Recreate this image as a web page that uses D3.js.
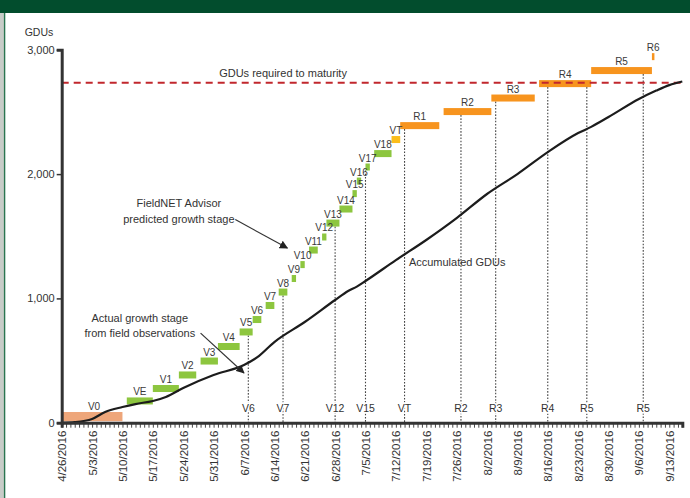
<!DOCTYPE html>
<html><head><meta charset="utf-8">
<script src="https://cdn.jsdelivr.net/npm/d3@7"></script>
<style>
html,body{margin:0;padding:0;background:#fff;}
svg{display:block;font-family:"Liberation Sans",Arial,sans-serif;}
</style></head><body>
<svg id="c" width="690" height="498"></svg>
<script>
// ---------- data ----------
const stageNames = ["V0","VE","V1","V2","V3","V4","V5","V6","V7","V8","V9","V10","V11","V12","V13","V14","V15","V16","V17","V18","VT","R1","R2","R3","R4","R5","R6"];
const stageStart = ["4/26/2016","5/11/2016","5/17/2016","5/23/2016","5/28/2016","6/1/2016","6/6/2016","6/9/2016","6/12/2016","6/15/2016","6/18/2016","6/20/2016","6/22/2016","6/25/2016","6/26/2016","6/29/2016","7/2/2016","7/3/2016","7/5/2016","7/7/2016","7/11/2016","7/13/2016","7/23/2016","8/3/2016","8/14/2016","8/26/2016","9/9/2016"];
const stageEnd   = ["5/10/2016","5/17/2016","5/23/2016","5/27/2016","6/1/2016","6/6/2016","6/9/2016","6/11/2016","6/14/2016","6/17/2016","6/19/2016","6/21/2016","6/24/2016","6/26/2016","6/29/2016","7/2/2016","7/3/2016","7/4/2016","7/6/2016","7/11/2016","7/13/2016","7/22/2016","8/3/2016","8/13/2016","8/26/2016","9/9/2016","9/9/2016"];
const stageGDU   = [86,175,275,384,496,613,730,830,943,1051,1160,1272,1389,1494,1606,1719,1843,1944,2057,2165,2278,2390,2503,2612,2728,2833,2945];

const obsNames = ["V6","V7","V12","V15","VT","R2","R3","R4","R5","R5"];
const obsDates = ["6/8/2016","6/16/2016","6/28/2016","7/5/2016","7/14/2016","7/27/2016","8/4/2016","8/16/2016","8/25/2016","9/7/2016"];

const gduDates  = ["4/26/2016","4/29/2016","5/3/2016","5/6/2016","5/10/2016","5/13/2016","5/17/2016","5/20/2016","5/24/2016","5/31/2016","6/7/2016","6/10/2016","6/14/2016","6/21/2016","6/28/2016","7/1/2016","7/3/2016","7/5/2016","7/12/2016","7/19/2016","7/26/2016","8/2/2016","8/9/2016","8/16/2016","8/23/2016","8/26/2016","8/30/2016","9/6/2016","9/10/2016","9/13/2016","9/16/2016"];
const gduValues = [0,5,30,86,126,150,175,207,280,384,464,525,649,810,987,1060,1095,1140,1308,1470,1646,1840,2000,2177,2330,2380,2459,2604,2672,2716,2745];

const maturityGDU = 2735;
const yTicks = [0,1000,2000,3000];
const xDomain = ["4/26/2016","9/16/2016"];
const labelRange = ["4/26/2016","9/13/2016"];

// ---------- setup ----------
const parse = d3.timeParse("%m/%d/%Y");
const fmt = d3.timeFormat("%-m/%-d/%Y");
const svg = d3.select("#c");
const W = 690, H = 498;

// frame
svg.append("rect").attr("x",0).attr("y",0).attr("width",W).attr("height",H).attr("fill","#fff");
svg.append("rect").attr("x",0).attr("y",0).attr("width",4).attr("height",H).attr("fill","#c8ccc8");
svg.append("line").attr("x1",4.6).attr("x2",4.6).attr("y1",0).attr("y2",H).attr("stroke","#2a7550").attr("stroke-width",1.4);
svg.append("rect").attr("x",0).attr("y",0).attr("width",W).attr("height",13).attr("fill","#024d2d");

const x = d3.scaleTime().domain(xDomain.map(parse)).range([61.7, 682.3]);
const y = d3.scaleLinear().domain([0,3000]).range([422.7, 49.8]);

const stages = stageNames.map((n,i)=>({name:n, s:parse(stageStart[i]), e:parse(stageEnd[i]), g:stageGDU[i]}));
function colorOf(n){ if(n==="V0") return "#eea67a"; if(n==="VT") return "#fbbd1c"; if(n[0]==="R") return "#f7941e"; return "#8dc63f"; }
const BH = 7;
function barTop(d){ return d.name==="V0" ? y(d.g) : y(d.g)-BH/2; }
function barBottom(d){ return d.name==="V0" ? y(0)-1.5 : y(d.g)+BH/2; }

// observation dotted lines
const obs = obsNames.map((n,i)=>({name:n, d:parse(obsDates[i])}));
obs.forEach(o=>{
  const cover = stages.filter(s=> s.s<=o.d && o.d<=s.e).sort((a,b)=>a.g-b.g)[0];
  o.top = cover ? barBottom(cover) : y(3000);
});
svg.append("g").selectAll("line").data(obs).join("line")
  .attr("x1",d=>x(d.d)).attr("x2",d=>x(d.d))
  .attr("y1",d=>d.top).attr("y2",y(0))
  .attr("stroke","#444").attr("stroke-width",1.1).attr("stroke-dasharray","1.6,1.6");

// stage bars
svg.append("g").selectAll("rect").data(stages).join("rect")
  .attr("x",d=>x(d.s))
  .attr("width",d=>Math.max(x(d.e)-x(d.s),2.5))
  .attr("y",d=>barTop(d))
  .attr("height",d=>barBottom(d)-barTop(d))
  .attr("fill",d=>colorOf(d.name));

// stage labels
svg.append("g").selectAll("text").data(stages).join("text")
  .attr("x",d=>(x(d.s)+x(d.e))/2 + (d.name==="R6"?1.2:0) + (d.name==="V0"?2:0))
  .attr("y",d=>barTop(d)-2)
  .attr("text-anchor","middle")
  .attr("font-size","10px").attr("fill","#3a3a3a")
  .text(d=>d.name);

// maturity line
svg.append("line").attr("x1",x(parse(xDomain[0]))).attr("x2",x(parse(xDomain[1])))
  .attr("y1",y(maturityGDU)).attr("y2",y(maturityGDU))
  .attr("stroke","#c1272d").attr("stroke-width",2.2).attr("stroke-dasharray","7,5");

// accumulated GDU curve
const line = d3.line().x((d,i)=>x(parse(gduDates[i]))).y(d=>y(d)).curve(d3.curveMonotoneX);
svg.append("path").datum(gduValues).attr("d",line).attr("fill","none").attr("stroke","#1c1c1c").attr("stroke-width",2.2);

// axes
const xMinor = d3.axisBottom(x).ticks(d3.timeDay.every(1)).tickSize(5).tickFormat("");
const gx = svg.append("g").attr("transform",`translate(0,${y(0)})`).call(xMinor);
gx.select(".domain").attr("stroke","#333").attr("stroke-width",3);
gx.selectAll(".tick line").attr("stroke","#333").attr("stroke-width",0.9);

const weekly = d3.timeDay.range(parse(labelRange[0]), d3.timeDay.offset(parse(labelRange[1]),1), 7);
const xLab = d3.axisBottom(x).tickValues(weekly).tickSize(0).tickFormat(fmt);
const gl = svg.append("g").attr("transform",`translate(0,${y(0)})`).call(xLab);
gl.select(".domain").remove();
gl.selectAll("text").attr("transform","rotate(-90)").attr("x",-8).attr("y",0).attr("dy","0.35em")
  .attr("text-anchor","end").attr("font-size","11.5px").attr("fill","#333").attr("font-family","Liberation Sans, Arial, sans-serif");

const gy = svg.append("g").attr("transform",`translate(${x.range()[0]},0)`)
  .call(d3.axisLeft(y).tickValues(yTicks).tickFormat(d3.format(",")).tickSize(5).tickPadding(2));
gy.select(".domain").attr("stroke","#333").attr("stroke-width",3);
gy.selectAll(".tick line").attr("stroke","#333").attr("stroke-width",1.5);
gy.selectAll("text").attr("font-size","11px").attr("fill","#333").attr("font-family","Liberation Sans, Arial, sans-serif");

// observation labels (on top of axis area)
svg.append("g").selectAll("text").data(obs).join("text")
  .attr("x",d=>x(d.d)).attr("y",y(0)-11)
  .attr("text-anchor","middle").attr("font-size","10.5px").attr("fill","#333")
  .attr("stroke","#fff").attr("stroke-width",3).attr("paint-order","stroke")
  .text(d=>d.name);

// annotations
const T = (txt, date, g, anchor, dy) => svg.append("text").attr("x",x(parse(date))).attr("y",y(g)+(dy||0))
  .attr("text-anchor",anchor).attr("font-size","11px").attr("fill","#333").text(txt);
svg.append("text").attr("x",x.range()[0]-37).attr("y",y(3000)-14).attr("font-size","10.5px").attr("fill","#333").text("GDUs");
T("GDUs required to maturity","6/16/2016",maturityGDU,"middle",-6);
T("FieldNET Advisor","5/23/2016",1735,"middle");
T("predicted growth stage","5/23/2016",1607,"middle");
T("Actual growth stage","5/14/2016",810,"middle");
T("from field observations","5/14/2016",690,"middle");
T("Accumulated GDUs","7/15/2016",1260,"start");

const defs = svg.append("defs");
defs.append("marker").attr("id","ah").attr("viewBox","0 0 10 10").attr("refX",9).attr("refY",5)
  .attr("markerWidth",7).attr("markerHeight",7).attr("orient","auto")
  .append("path").attr("d","M0,0L10,5L0,10z").attr("fill","#222");
const arrows = [["6/5/2016",1634,"6/17/2016",1405],["5/28/2016",721,"6/7/2016",400]];
svg.append("g").selectAll("line").data(arrows).join("line")
  .attr("x1",d=>x(parse(d[0]))).attr("y1",d=>y(d[1]))
  .attr("x2",d=>x(parse(d[2]))).attr("y2",d=>y(d[3]))
  .attr("stroke","#333").attr("stroke-width",1.2).attr("marker-end","url(#ah)");
</script>
</body></html>
